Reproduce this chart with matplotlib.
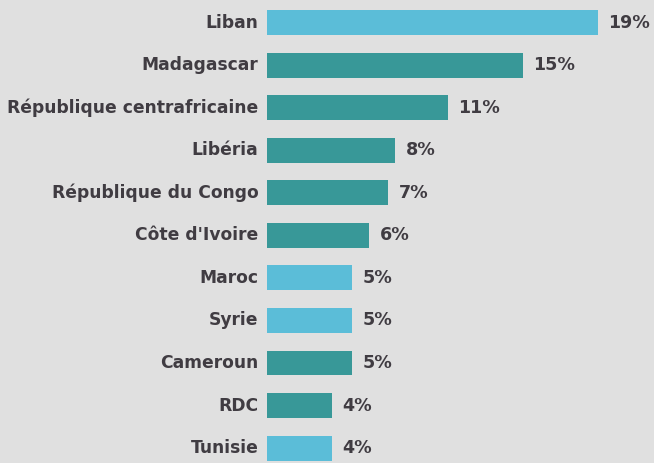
import matplotlib
matplotlib.use("Agg")
import matplotlib.pyplot as plt

# share by country
countries = ["Liban", "Madagascar", "République centrafricaine", "Libéria",
             "République du Congo", "Côte d'Ivoire", "Maroc", "Syrie",
             "Cameroun", "RDC", "Tunisie"]
values = [19.4, 15.0, 10.6, 7.5, 7.1, 6.0, 5.0, 5.0, 5.0, 3.8, 3.8]
labels = ["19%", "15%", "11%", "8%", "7%", "6%", "5%", "5%", "5%", "4%", "4%"]
highlight = [True, False, False, False, False, False, True, True, False, False, True]

light = "#5bbdd8"
teal = "#389898"
bg = "#e0e0e0"
txt = "#403c42"

fig = plt.figure(figsize=(6.54, 4.63), dpi=100, facecolor=bg)
ax = fig.add_axes([267 / 654, 0, 1 - 267 / 654, 1])
ax.set_facecolor(bg)

ypos = list(range(len(countries)))
colors = [light if h else teal for h in highlight]
ax.barh(ypos, values, height=0.585, color=colors)

for y, v, lab in zip(ypos, values, labels):
    ax.text(v + 0.62, y, lab, ha="left", va="center", fontsize=12.6,
            fontweight="bold", color=txt)

for y, name in zip(ypos, countries):
    ax.text(-0.5, y, name, ha="right", va="center", fontsize=12.3,
            fontweight="bold", color=txt, clip_on=False)

ax.set_xlim(0, 22.7)
ax.set_ylim(10.35, -0.529)
ax.axis("off")

fig.savefig("out.png", dpi=100, facecolor=bg)
